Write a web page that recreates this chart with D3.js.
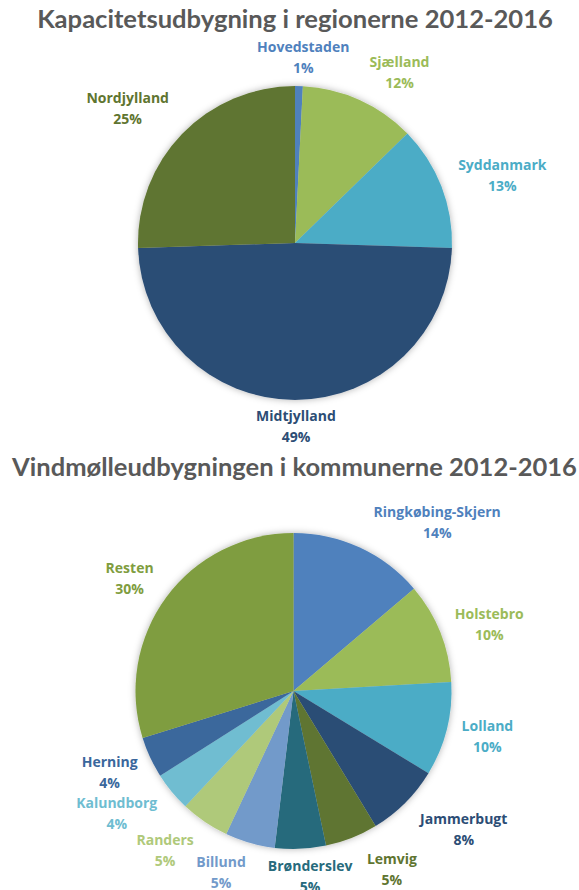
<!DOCTYPE html>
<html>
<head>
<meta charset="utf-8">
<script src="https://cdn.jsdelivr.net/npm/d3@7"></script>
<style>
  body { margin: 0; background: #fff; }
  text { font-family: Lato, "Open Sans", sans-serif; font-weight: bold; }
  text.lbl { font-family: "Open Sans", Lato, sans-serif; }
</style>
</head>
<body>
<div id="chart"></div>
<script>
// --- data: regions (top chart)
const regionTitle = "Kapacitetsudbygning i regionerne 2012-2016";
const regions = ["Hovedstaden", "Sjælland", "Syddanmark", "Midtjylland", "Nordjylland"];
const regionShare = [0.8, 11.9, 12.8, 49.0, 25.5];
const regionPct = ["1%", "12%", "13%", "49%", "25%"];
const regionColors = ["#4f81bd", "#9bbb59", "#4bacc6", "#2c4d75", "#5f7530"];

// --- data: municipalities (bottom chart)
const munTitle = "Vindmølleudbygningen i kommunerne 2012-2016";
const municipalities = ["Ringkøbing-Skjern", "Holstebro", "Lolland", "Jammerbugt", "Lemvig",
  "Brønderslev", "Billund", "Randers", "Kalundborg", "Herning", "Resten"];
const munShare = [13.8, 10.3, 9.6, 7.6, 5.4, 5.2, 5.1, 5.0, 4.0, 4.2, 29.8];
const munPct = ["14%", "10%", "10%", "8%", "5%", "5%", "5%", "5%", "4%", "4%", "30%"];
const munColors = ["#4f81bd", "#9bbb59", "#4bacc6", "#2c4d75", "#5f7530",
  "#276a7c", "#729aca", "#afc97a", "#6fbdd1", "#3a679c", "#7f9d3f"];

// label placement tweaks (degrees off the slice middle, distance from centre)
const regionLabelShift = [1.1, 7.2, 3.2, -0.3, -5.2];
const regionLabelDist = [186, 200, 218, 183, 215];
const munLabelShift = [15.5, 2.8, -1, -6, -7.4, -2.6, 5.8, 4.8, 4.9, 1, -1.8];
const munLabelDist = [222, 207, 199, 219, 203, 186, 195, 204, 215, 201, 199];

const W = 579, H = 890;

const svg = d3.select("#chart").append("svg")
  .attr("width", W)
  .attr("height", H);

// soft shadow round the pies
const filter = svg.append("defs").append("filter")
  .attr("id", "shadow")
  .attr("x", "-10%").attr("y", "-10%")
  .attr("width", "120%").attr("height", "120%");
filter.append("feDropShadow")
  .attr("dx", 0).attr("dy", 0)
  .attr("stdDeviation", 3.5)
  .attr("flood-color", "#000")
  .attr("flood-opacity", 0.3);

function title(txt, cx, y, targetW) {
  let t = svg.append("text")
    .attr("x", cx).attr("y", y)
    .attr("text-anchor", "middle")
    .style("font-size", "24px")
    .style("fill", "#595959")
    .text(txt);
  let w = t.node().getComputedTextLength();
  t.style("font-size", (24 * targetW / w) + "px");
}

function drawPie(cfg) {
  let pie = d3.pie().sort(null).value(d => d);
  let arcs = pie(cfg.values);
  let arc = d3.arc().innerRadius(0).outerRadius(cfg.r);

  let g = svg.append("g")
    .attr("transform", "translate(" + cfg.cx + "," + cfg.cy + ")");

  g.append("g")
    .attr("filter", "url(#shadow)")
    .selectAll("path")
    .data(arcs)
    .enter()
      .append("path")
        .attr("d", arc)
        .style("fill", (d, i) => cfg.colors[i]);

  let labels = g.selectAll("text.lbl")
    .data(arcs)
    .enter()
      .append("text")
        .attr("class", "lbl")
        .attr("text-anchor", "middle")
        .style("font-size", "14px")
        .style("fill", (d, i) => cfg.colors[i])
        .attr("transform", (d, i) => {
          let a = (d.startAngle + d.endAngle) / 2 + cfg.shift[i] * Math.PI / 180;
          let r = cfg.dist[i];
          return "translate(" + (r * Math.sin(a)) + "," + (-r * Math.cos(a)) + ")";
        });

  labels.append("tspan")
    .attr("x", 0).attr("y", -10.5)
    .attr("dominant-baseline", "central")
    .text((d, i) => cfg.names[i]);
  labels.append("tspan")
    .attr("x", 0).attr("y", 10.5)
    .attr("dominant-baseline", "central")
    .text((d, i) => cfg.pct[i]);
}

title(regionTitle, 295, 28, 516);
drawPie({
  cx: 295, cy: 243, r: 157,
  values: regionShare, names: regions, pct: regionPct, colors: regionColors,
  shift: regionLabelShift, dist: regionLabelDist
});

title(munTitle, 294.5, 476, 565);
drawPie({
  cx: 293.5, cy: 691, r: 158,
  values: munShare, names: municipalities, pct: munPct, colors: munColors,
  shift: munLabelShift, dist: munLabelDist
});
</script>
</body>
</html>
